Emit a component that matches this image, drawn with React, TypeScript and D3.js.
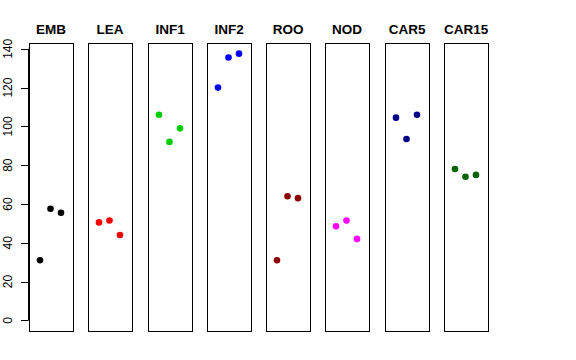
import React from "react";
import * as d3 from "d3";

// tissues, one panel each
const tissues = ["EMB", "LEA", "INF1", "INF2", "ROO", "NOD", "CAR5", "CAR15"];
const colors = ["#000000", "#FF0000", "#00CD00", "#0000FF", "#8B0000", "#FF00FF", "#00008B", "#006400"];
const reps = ["r1", "r2", "r3"];

// three replicates per tissue
const rep1 = [31, 50.5, 106, 120, 31, 48.5, 104.5, 78];
const rep2 = [57.5, 51.5, 92, 135.5, 64, 51.5, 93.5, 74];
const rep3 = [55.5, 44, 99, 137.5, 63, 42, 106, 75];

const yTicks = [0, 20, 40, 60, 80, 100, 120, 140];

const W = 576;
const H = 360;
const top = 43;
const bottom = 331;

export default function App() {
  const all = [...rep1, ...rep2, ...rep3];
  const ymax = d3.max(all) as number;
  const ext = ymax * 0.04;
  const y = d3.scaleLinear().domain([0 - ext, ymax + ext]).range([bottom, top]);

  const x = d3.scaleBand<string>().domain(tissues).range([29, 488]).paddingInner(0.254).paddingOuter(0);
  const bw = x.bandwidth();

  const series = [rep1, rep2, rep3];

  return (
    <svg width={W} height={H} style={{ position: "absolute", left: 0, top: 0, background: "#fff" }}
      fontFamily="'Liberation Sans', Arial, Helvetica, sans-serif">
      {/* y axis */}
      <g>
        <line x1={28.5} x2={28.5} y1={y(0)} y2={y(140)} stroke="#000" />
        {yTicks.map((t) => (
          <g key={t}>
            <line x1={21} x2={28.5} y1={Math.round(y(t)) + 0.5} y2={Math.round(y(t)) + 0.5} stroke="#000" />
            <text transform={`translate(12,${y(t)}) rotate(-90)`} textAnchor="middle" fontSize={12}>{t}</text>
          </g>
        ))}
      </g>
      {tissues.map((tis, i) => {
        const x0 = Math.round(x(tis) as number);
        const px = d3.scalePoint<string>().domain(reps).range([x0 + 11, x0 + 32]);
        return (
          <g key={tis}>
            <rect x={x0 + 0.5} y={top + 0.5} width={Math.round(bw)} height={bottom - top} fill="none" stroke="#000" />
            <text x={x0 + bw / 2} y={34} textAnchor="middle" fontSize={13.5} fontWeight="bold">{tis}</text>
            {series.map((s, j) => (
              <circle key={j} cx={px(reps[j])} cy={y(s[i])} r={3.3} fill={colors[i]} />
            ))}
          </g>
        );
      })}
    </svg>
  );
}
